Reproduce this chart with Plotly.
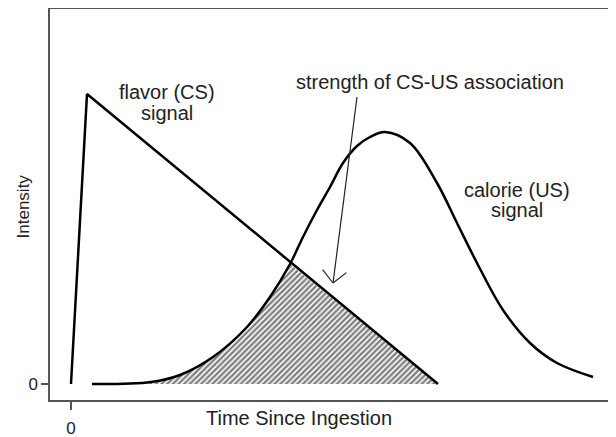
import math
import plotly.graph_objects as go

# ---- data (time units, intensity units) ----
flavor_x = [0, 16, 367]
flavor_y = [0, 290, 0]

calorie_x = [21, 80, 109, 142, 176, 199, 219, 232, 246, 259, 272, 286, 299, 314, 339, 366, 386, 406, 432, 459, 486, 522]
calorie_y = [0, 2, 9, 27, 57, 87, 120, 147, 174, 197, 221, 238, 247, 252, 241, 201, 161, 121, 74, 41, 21, 7]

x_tick_vals = [0]
x_tick_text = ["0"]
y_tick_vals = [0]
y_tick_text = ["0"]

# overlap region: under calorie curve until the crossing, then under the flavor line
cross_x = 219
hatch_a_x = [x for x in calorie_x if x <= cross_x]
hatch_a_y = [y for x, y in zip(calorie_x, calorie_y) if x <= cross_x]
hatch_b_x = [hatch_a_x[-1], flavor_x[-1]]
hatch_b_y = [hatch_a_y[-1], flavor_y[-1]]

FONT = "Liberation Sans, Arial, sans-serif"
TXT = "#222222"
FRAME = "#555555"

pattern = dict(shape="/", size=4, solidity=0.6, fgcolor="#000000", bgcolor="white")

fig = go.Figure()

fig.add_trace(go.Scatter(
    x=hatch_a_x, y=hatch_a_y, mode="lines", fill="tozeroy", line_shape="spline",
    line=dict(width=0, color="rgba(0,0,0,0)"), fillcolor="white",
    fillpattern=pattern, hoverinfo="skip", showlegend=False))
fig.add_trace(go.Scatter(
    x=hatch_b_x, y=hatch_b_y, mode="lines", fill="tozeroy",
    line=dict(width=0, color="rgba(0,0,0,0)"), fillcolor="white",
    fillpattern=pattern, hoverinfo="skip", showlegend=False))

fig.add_trace(go.Scatter(
    x=calorie_x, y=calorie_y, mode="lines", line_shape="spline",
    line=dict(color="black", width=2.5), showlegend=False))

fig.add_trace(go.Scatter(
    x=flavor_x, y=flavor_y, mode="lines",
    line=dict(color="black", width=2.5), showlegend=False))

# page body adds an 8px offset, margins compensate for it
fig.update_layout(
    width=616, height=437,
    margin=dict(l=42, r=10, t=1, b=45),
    paper_bgcolor="white", plot_bgcolor="white",
    font=dict(family=FONT, color=TXT, size=20),
    showlegend=False,
    xaxis=dict(range=[-21, 543], showgrid=False, zeroline=False, automargin=False,
               showline=True, mirror=True, linecolor=FRAME, linewidth=1.5,
               tickmode="array", tickvals=x_tick_vals, ticktext=x_tick_text,
               ticks="outside", ticklen=8, tickwidth=1.5, tickcolor=FRAME,
               ticklabelstandoff=4,
               tickfont=dict(size=17, color=TXT, family=FONT)),
    yaxis=dict(range=[-16, 375], showgrid=False, zeroline=False, automargin=False,
               showline=True, mirror=True, linecolor=FRAME, linewidth=1.5,
               tickmode="array", tickvals=y_tick_vals, ticktext=y_tick_text,
               ticks="outside", ticklen=7, tickwidth=1.5, tickcolor=FRAME,
               tickfont=dict(size=17, color=TXT, family=FONT)),
)

ann = [
    dict(text="flavor (CS)", x=96, y=292),
    dict(text="signal", x=96, y=271),
    dict(text="strength of CS-US association", x=359, y=302),
    dict(text="calorie (US)", x=446, y=194),
    dict(text="signal", x=446, y=174),
]
for a in ann:
    fig.add_annotation(text=a["text"], x=a["x"], y=a["y"], xref="x", yref="y",
                       showarrow=False, xanchor="center", yanchor="middle",
                       font=dict(size=20, color=TXT, family=FONT))

# arrow pointing at the overlap: thin shaft plus an open V head
tip = (262, 101)
tail = (286, 287)
fig.add_shape(type="line", x0=tail[0], y0=tail[1], x1=tip[0], y1=tip[1],
              xref="x", yref="y", line=dict(color="#222222", width=1.2))
ang = math.atan2(tail[1] - tip[1], tail[0] - tip[0])
for d in (math.radians(45), -math.radians(45)):
    fig.add_shape(type="line", x0=tip[0], y0=tip[1],
                  x1=tip[0] + 17 * math.cos(ang + d), y1=tip[1] + 17 * math.sin(ang + d),
                  xref="x", yref="y", line=dict(color="#222222", width=1.2))

fig.add_annotation(text="Time Since Ingestion", x=0.4415, y=-0.046, xref="paper", yref="paper",
                   showarrow=False, xanchor="center", yanchor="middle",
                   font=dict(size=20, color=TXT, family=FONT))
fig.add_annotation(text="Intensity", x=-0.0479, y=0.495, xref="paper", yref="paper",
                   showarrow=False, xanchor="center", yanchor="middle", textangle=-90,
                   font=dict(size=17, color=TXT, family=FONT))

fig.write_html("out.html")
